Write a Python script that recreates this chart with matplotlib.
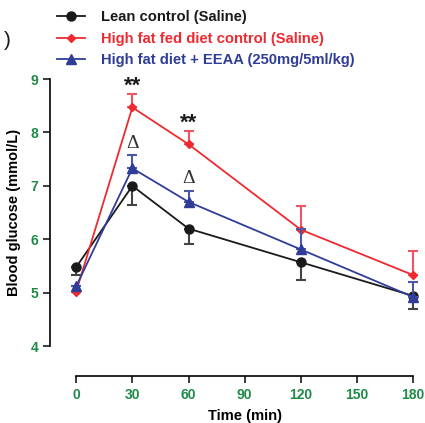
import matplotlib
matplotlib.use("Agg")
import matplotlib.pyplot as plt
from matplotlib.lines import Line2D

time = [0, 30, 60, 120, 180]
lean = [5.48, 7.00, 6.20, 5.57, 4.94]
lean_err = [0.14, 0.35, 0.28, 0.33, 0.24]
hfd = [5.02, 8.47, 7.78, 6.18, 5.33]
hfd_err = [0.0, 0.26, 0.24, 0.44, 0.46]
eeaa = [5.12, 7.33, 6.70, 5.81, 4.92]
eeaa_err = [0.0, 0.24, 0.20, 0.38, 0.28]
labels = ["Lean control (Saline)", "High fat fed diet control (Saline)",
          "High fat diet + EEAA (250mg/5ml/kg)"]
xticks = [0, 30, 60, 90, 120, 150, 180]
yticks = [4, 5, 6, 7, 8, 9]

plt.rcParams['font.family'] = ['Liberation Sans', 'DejaVu Sans']
BLACK = "#1a1a1a"
RED = "#ee2a30"
BLUE = "#2f3d98"
GREEN = "#1f8a48"

fig = plt.figure(figsize=(4.25, 4.23), dpi=100)
ax = fig.add_axes([50/425, (423-376)/423, 370/425, 306/423])

zeros = [0]*len(time)
styles = [(lean, lean_err, BLACK, "#444444", 'o', 6.5, True),
          (hfd, hfd_err, RED, "#ee5560", 'D', 4.5, False),
          (eeaa, eeaa_err, BLUE, "#4a58a8", '^', 6.5, False)]
handles = []
for i, (vals, err, c, ec, m, ms, down) in enumerate(styles):
    yerr = [err, zeros] if down else [zeros, err]
    ax.errorbar(time, vals, yerr=yerr, color=c, ecolor=ec, marker=m, ms=ms, lw=1.3,
                elinewidth=1.5, capsize=3.5, capthick=1.5, zorder=3 + i)
    handles.append(Line2D([], [], color=c, marker=m, ms=ms, lw=1.3))

for x, y in [(30, 8.86), (60, 8.17)]:
    ax.text(x, y, "**", ha='center', va='center', fontsize=16, fontweight='bold', color=BLACK)
for x, y in [(30, 7.80), (60, 7.13)]:
    ax.text(x, y, "Δ", ha='center', va='center', fontsize=14, color='#333333',
            family=['Liberation Serif', 'DejaVu Serif'])

ax.set_xlim(-14, -14 + 370/1.872)
ax.set_ylim(3.44, 3.44 + 306/53.4)
ax.spines['top'].set_visible(False)
ax.spines['right'].set_visible(False)
ax.spines['left'].set_bounds(4, 9)
ax.spines['bottom'].set_bounds(0, 180)
ax.spines['left'].set_linewidth(1.2)
ax.spines['bottom'].set_linewidth(1.2)
ax.set_xticks(xticks)
ax.set_yticks(yticks)
ax.tick_params(length=5, width=1.2, colors=BLACK, labelcolor=GREEN, labelsize=10)
for t in ax.get_xticklabels() + ax.get_yticklabels():
    t.set_fontweight('bold')
ax.set_xlabel("Time (min)", fontsize=10.6, fontweight='bold')
ax.set_ylabel("Blood glucose (mmol/L)", fontsize=10.5, fontweight='bold')
ax.xaxis.set_label_coords((90 + 14) / (370/1.872), -0.108)
ax.yaxis.set_label_coords(-0.078, (6.5 - 3.44) / (306/53.4))

leg = fig.legend(handles, labels, loc='upper left', bbox_to_anchor=(57/425, 1 - 10/423),
                 frameon=False, borderpad=0, borderaxespad=0, fontsize=10.6,
                 handlelength=1.9, handletextpad=1.1, labelspacing=0.52)
for txt, c in zip(leg.get_texts(), [BLACK, RED, BLUE]):
    txt.set_color(c)
    txt.set_fontweight('bold')

fig.text(4/425, 1 - 40/423, ")", fontsize=15, va='center', ha='left', color=BLACK)

fig.savefig("out.png", dpi=100)
